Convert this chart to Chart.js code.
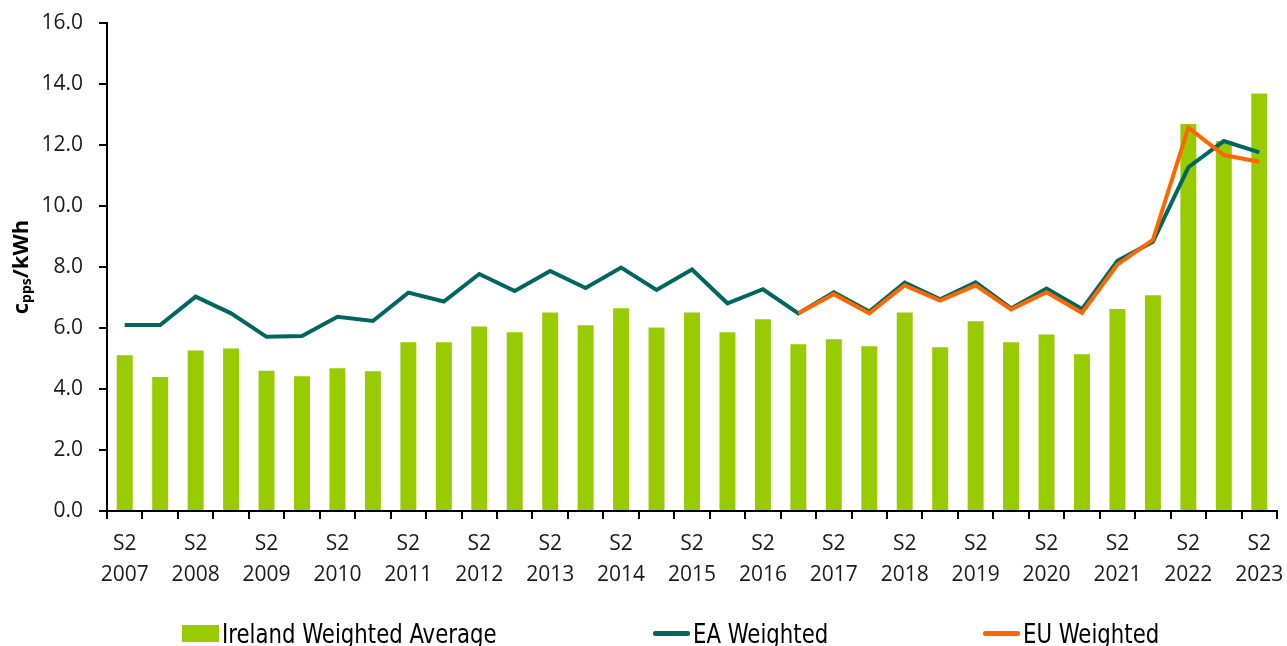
<!DOCTYPE html>
<html>
<head>
<meta charset="utf-8">
<script src="https://cdn.jsdelivr.net/npm/chart.js@4/dist/chart.umd.min.js"></script>
<style>
    body { margin: 0; background: #fff; }
    #wrap { position: relative; width: 1287px; height: 646px; overflow: hidden; }
    #legend { position: absolute; left: 0; top: 620px; width: 1287px; height: 26px; }
    .lg-item { position: absolute; top: 0; display: flex; align-items: center; height: 26px;
               font-family: "Liberation Sans Narrow", "DejaVu Sans Condensed", sans-serif;
               font-size: 27px; color: #000; white-space: nowrap; }
    .lg-swatch { display: inline-block; margin-right: 3px; flex: none; }
    .lg-text { display: inline-block; transform: scaleX(0.875); transform-origin: left center; }
</style>
</head>
<body>
<div id="wrap">
    <canvas id="priceChart"></canvas>
    <div id="legend"></div>
</div>
<script>
// ------------------------------------------------------------------
// Data (c/kWh in PPS)
// ------------------------------------------------------------------
const periods = [
    'S2 2007', 'S1 2008', 'S2 2008', 'S1 2009', 'S2 2009', 'S1 2010', 'S2 2010',
    'S1 2011', 'S2 2011', 'S1 2012', 'S2 2012', 'S1 2013', 'S2 2013', 'S1 2014',
    'S2 2014', 'S1 2015', 'S2 2015', 'S1 2016', 'S2 2016', 'S1 2017', 'S2 2017',
    'S1 2018', 'S2 2018', 'S1 2019', 'S2 2019', 'S1 2020', 'S2 2020', 'S1 2021',
    'S2 2021', 'S1 2022', 'S2 2022', 'S1 2023', 'S2 2023'
];

const irelandAvg = [
    5.11, 4.39, 5.26, 5.33, 4.60, 4.42, 4.68, 4.58, 5.53, 5.53, 6.05,
    5.86, 6.51, 6.09, 6.65, 6.02, 6.51, 5.86, 6.29, 5.47, 5.63, 5.40,
    6.51, 5.37, 6.22, 5.53, 5.79, 5.14, 6.62, 7.07, 12.69, 12.13, 13.69
];

const eaWeighted = [
    6.10, 6.10, 7.03, 6.48, 5.71, 5.74, 6.37, 6.23, 7.16, 6.87, 7.77,
    7.21, 7.87, 7.31, 7.98, 7.25, 7.92, 6.81, 7.27, 6.48, 7.17, 6.54,
    7.49, 6.94, 7.50, 6.64, 7.29, 6.62, 8.20, 8.83, 11.27, 12.13, 11.76
];

const euWeighted = [
    null, null, null, null, null, null, null, null, null, null, null,
    null, null, null, null, null, null, null, null, 6.48, 7.11, 6.48,
    7.40, 6.90, 7.40, 6.61, 7.17, 6.50, 8.08, 8.89, 12.57, 11.67, 11.45
];

const yTicks = { min: 0, max: 16, step: 2 };

// ------------------------------------------------------------------
// Colours & fonts
// ------------------------------------------------------------------
const GREEN = '#99CC00';
const TEAL = '#00675F';
const ORANGE = '#FF6600';
const TICK_FONT = { family: '"Open Sans", "Noto Sans", sans-serif', size: 21 };

// y-axis title with the "pps" subscript, drawn rotated on the left
const yTitlePlugin = {
    id: 'yTitle',
    afterDraw(chart) {
        const ctx = chart.ctx;
        const bigFont = 'bold 22px "Open Sans", "Noto Sans", sans-serif';
        const subFont = 'bold 14px "Open Sans", "Noto Sans", sans-serif';
        ctx.save();
        ctx.font = bigFont;
        const wC = ctx.measureText('c').width;
        const wK = ctx.measureText('/kWh').width;
        ctx.font = subFont;
        const wS = ctx.measureText('pps').width;
        const total = wC + wS + wK;

        ctx.translate(28, 267);
        ctx.rotate(-Math.PI / 2);
        ctx.fillStyle = '#000';
        ctx.textBaseline = 'alphabetic';
        ctx.textAlign = 'left';
        let x = -total / 2;
        ctx.font = bigFont;
        ctx.fillText('c', x, 0);
        x += wC;
        ctx.font = subFont;
        ctx.fillText('pps', x, 3);
        x += wS;
        ctx.font = bigFont;
        ctx.fillText('/kWh', x, 0);
        ctx.restore();
    }
};

const ctx = document.getElementById('priceChart');

const priceChart = new Chart(ctx, {
    type: 'bar',
    data: {
        labels: periods,
        datasets: [
            {
                type: 'bar',
                label: 'Ireland Weighted Average',
                data: irelandAvg,
                backgroundColor: GREEN,
                borderWidth: 0,
                barPercentage: 0.45,
                categoryPercentage: 1.0,
                order: 3
            },
            {
                type: 'line',
                label: 'EA Weighted',
                data: eaWeighted,
                borderColor: TEAL,
                backgroundColor: TEAL,
                borderWidth: 4,
                pointRadius: 0,
                tension: 0,
                fill: false,
                order: 2
            },
            {
                type: 'line',
                label: 'EU Weighted',
                data: euWeighted,
                borderColor: ORANGE,
                backgroundColor: ORANGE,
                borderWidth: 4,
                pointRadius: 0,
                tension: 0,
                fill: false,
                spanGaps: false,
                order: 1
            }
        ]
    },
    options: {
        responsive: true,
        maintainAspectRatio: false,
        animation: false,
        layout: { padding: { top: 23, right: 10, left: 0, bottom: 0 } },
        plugins: {
            legend: { display: false },
            tooltip: { enabled: false }
        },
        scales: {
            x: {
                grid: {
                    offset: true,
                    drawOnChartArea: false,
                    drawTicks: true,
                    tickLength: 8,
                    color: '#000',
                    lineWidth: 2
                },
                border: { color: '#000', width: 2 },
                ticks: {
                    autoSkip: false,
                    maxRotation: 0,
                    minRotation: 0,
                    padding: 10,
                    color: '#1a1a1a',
                    font: { ...TICK_FONT, lineHeight: 1.45 },
                    callback: function (v, i) {
                        const p = periods[i].split(' ');
                        return p[0] === 'S2' ? [p[0], p[1]] : '';
                    }
                },
                afterFit: (scale) => {
                    scale.height = 135;
                    scale.paddingLeft = 0;
                    scale.paddingRight = 0;
                }
            },
            y: {
                min: yTicks.min,
                max: yTicks.max,
                grid: {
                    drawOnChartArea: false,
                    drawTicks: true,
                    tickLength: 8,
                    color: '#000',
                    lineWidth: 2
                },
                border: { color: '#000', width: 2 },
                ticks: {
                    stepSize: yTicks.step,
                    padding: 16,
                    color: '#1a1a1a',
                    font: TICK_FONT,
                    callback: (v) => v.toFixed(1)
                },
                afterFit: (scale) => {
                    scale.width = 107;
                    scale.paddingTop = 0;
                    scale.paddingBottom = 0;
                }
            }
        }
    },
    plugins: [yTitlePlugin]
});

// ------------------------------------------------------------------
// Legend (HTML, spaced like the reference)
// ------------------------------------------------------------------
function renderLegend(chart) {
    const lefts = [182, 653, 983];
    const box = document.getElementById('legend');
    box.innerHTML = '';
    chart.data.datasets.forEach((ds, i) => {
        const item = document.createElement('div');
        item.className = 'lg-item';
        item.style.left = lefts[i] + 'px';
        const sw = document.createElement('span');
        sw.className = 'lg-swatch';
        if (ds.type === 'bar') {
            sw.style.cssText = `width:37px;height:17px;background:${ds.backgroundColor};`;
        } else {
            sw.style.cssText = `width:37px;height:5px;border-radius:2px;background:${ds.borderColor};`;
        }
        const txt = document.createElement('span');
        txt.className = 'lg-text';
        txt.textContent = ds.label;
        item.appendChild(sw);
        item.appendChild(txt);
        box.appendChild(item);
    });
}

renderLegend(priceChart);
</script>
</body>
</html>
